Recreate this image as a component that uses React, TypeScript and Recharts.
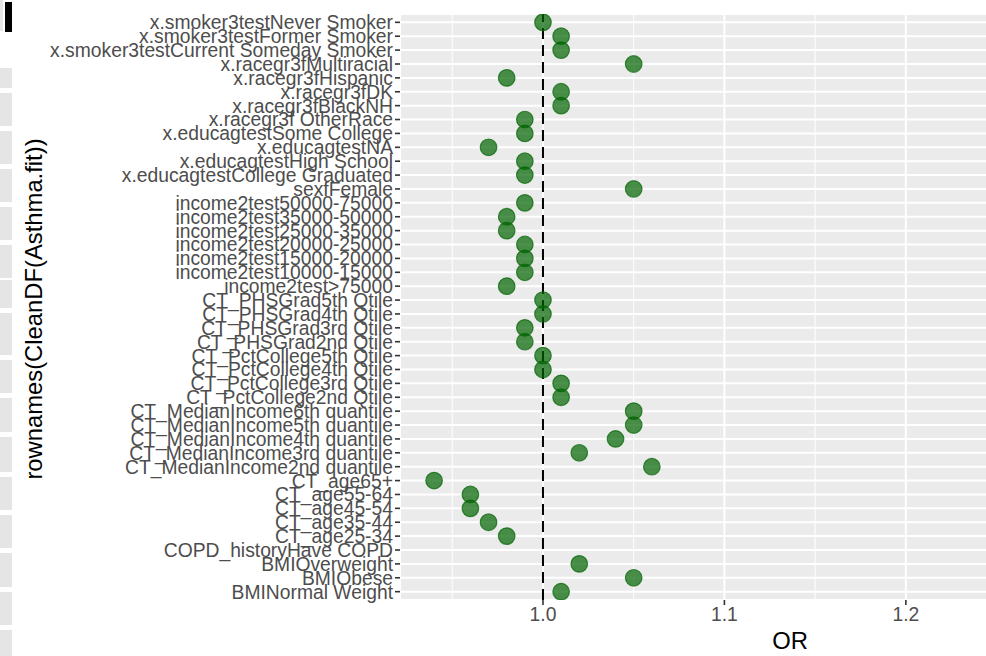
import React from 'react';
import {
  ScatterChart,
  Scatter,
  XAxis,
  YAxis,
  CartesianGrid,
  ReferenceLine,
} from 'recharts';

// Model terms, listed top to bottom as they appear on the y axis
const TERMS: string[] = [
  'x.smoker3testNever Smoker',
  'x.smoker3testFormer Smoker',
  'x.smoker3testCurrent Someday Smoker',
  'x.racegr3fMultiracial',
  'x.racegr3fHispanic',
  'x.racegr3fDK',
  'x.racegr3fBlackNH',
  'x.racegr3f OtherRace',
  'x.educagtestSome College',
  'x.educagtestNA',
  'x.educagtestHigh School',
  'x.educagtestCollege Graduated',
  'sexfFemale',
  'income2test50000-75000',
  'income2test35000-50000',
  'income2test25000-35000',
  'income2test20000-25000',
  'income2test15000-20000',
  'income2test10000-15000',
  'income2test>75000',
  'CT_PHSGrad5th Qtile',
  'CT_PHSGrad4th Qtile',
  'CT_PHSGrad3rd Qtile',
  'CT_PHSGrad2nd Qtile',
  'CT_PctCollege5th Qtile',
  'CT_PctCollege4th Qtile',
  'CT_PctCollege3rd Qtile',
  'CT_PctCollege2nd Qtile',
  'CT_MedianIncome6th quantile',
  'CT_MedianIncome5th quantile',
  'CT_MedianIncome4th quantile',
  'CT_MedianIncome3rd quantile',
  'CT_MedianIncome2nd quantile',
  'CT_age65+',
  'CT_age55-64',
  'CT_age45-54',
  'CT_age35-44',
  'CT_age25-34',
  'COPD_historyHave COPD',
  'BMIOverweight',
  'BMIObese',
  'BMINormal Weight',
];

// Odds ratio for each term, same order as TERMS
const ODDS_RATIOS: number[] = [
  1.0, 1.01, 1.01, 1.05, 0.98, 1.01, 1.01, 0.99, 0.99, 0.97, 0.99, 0.99,
  1.05, 0.99, 0.98, 0.98, 0.99, 0.99, 0.99, 0.98, 1.0, 1.0, 0.99, 0.99,
  1.0, 1.0, 1.01, 1.01, 1.05, 1.05, 1.04, 1.02, 1.06, 0.94, 0.96, 0.96,
  0.97, 0.98, 1.33, 1.02, 1.05, 1.01,
];

const X_TICKS: number[] = [1.0, 1.1, 1.2, 1.3];
const X_MINOR: number[] = [0.95, 1.05, 1.15, 1.25];
const X_DOMAIN: [number, number] = [0.9212, 1.3511];
const REFERENCE_OR = 1.0;

const ROW_TICKS = TERMS.map((_, i) => i);

const data = TERMS.map((term, i) => ({ term, row: i, or: ODDS_RATIOS[i] }));

const FONT = '"Liberation Sans", Arial, Helvetica, sans-serif';

const YTick = (props: any) => {
  const { x, y, payload } = props;
  return (
    <text
      x={x}
      y={y}
      dy="0.36em"
      textAnchor="end"
      fill="#4d4d4d"
      fontSize={19.3}
      fontFamily={FONT}
    >
      {TERMS[payload.value]}
    </text>
  );
};

const Dot = (props: any) => {
  const { cx, cy } = props;
  if (cx == null || cy == null) return null;
  return (
    <circle
      cx={cx}
      cy={cy}
      r={8.3}
      fill="#006400"
      fillOpacity={0.7}
      stroke="#006400"
      strokeOpacity={0.7}
      strokeWidth={1.2}
    />
  );
};

// Neighbouring strip pieces along the left edge
const STRIP_BLOCKS: [number, number][] = [
  [68, 20], [93, 33], [131, 33], [169, 33], [207, 33], [245, 33],
  [280, 28], [313, 42], [360, 33], [398, 34], [437, 35], [477, 33],
  [515, 33], [553, 34], [592, 33], [630, 30],
];

export default function App() {
  return (
    <div
      style={{
        position: 'fixed',
        left: 0,
        top: 0,
        width: 986,
        height: 656,
        overflow: 'hidden',
        background: '#ffffff',
      }}
    >
      <div style={{ position: 'absolute', left: 0, top: 0, width: 3, height: 31, background: '#e6e6e6' }} />
      <div style={{ position: 'absolute', left: 5, top: 2, width: 7, height: 30, background: '#000' }} />
      {STRIP_BLOCKS.map(([top, h], i) => (
        <div
          key={i}
          style={{ position: 'absolute', left: 0, top, width: 12, height: h, background: '#e5e5e5' }}
        />
      ))}
      <div style={{ position: 'absolute', left: 0, top: 0 }}>
        <ScatterChart
          width={1200}
          height={656}
          margin={{ top: 14, right: 20, bottom: 0, left: 0 }}
        >
          <CartesianGrid
            fill="#ebebeb"
            fillOpacity={1}
            stroke="#ffffff"
            strokeWidth={2}
          />
          <CartesianGrid
            horizontal={false}
            verticalValues={X_MINOR}
            stroke="#ffffff"
            strokeWidth={1}
            fill="none"
          />
          <XAxis
            type="number"
            dataKey="or"
            domain={X_DOMAIN}
            allowDataOverflow
            ticks={X_TICKS}
            interval={0}
            tickFormatter={(v: number) => v.toFixed(1)}
            height={56}
            tickSize={5}
            tickMargin={2}
            axisLine={false}
            tickLine={{ stroke: '#333333', strokeWidth: 1.6 }}
            tick={{ fill: '#4d4d4d', fontSize: 19.3, fontFamily: FONT }}
          />
          <YAxis
            type="number"
            dataKey="row"
            domain={[-0.6, TERMS.length - 1 + 0.6]}
            reversed
            allowDataOverflow
            ticks={ROW_TICKS}
            interval={0}
            width={400}
            tickSize={5}
            tickMargin={2}
            axisLine={false}
            tickLine={{ stroke: '#333333', strokeWidth: 1.6 }}
            tick={<YTick />}
          />
          <Scatter data={data} shape={<Dot />} isAnimationActive={false} />
          <ReferenceLine
            x={REFERENCE_OR}
            stroke="#000000"
            strokeWidth={2}
            strokeDasharray="11 6"
          />
        </ScatterChart>
      </div>
      <svg
        width={986}
        height={656}
        style={{ position: 'absolute', left: 0, top: 0, pointerEvents: 'none' }}
      >
        <text
          transform="translate(42,309) rotate(-90)"
          textAnchor="middle"
          fontSize={23.8}
          fontFamily={FONT}
          fill="#000"
        >
          rownames(CleanDF(Asthma.fit))
        </text>
        <text x={790} y={649} textAnchor="middle" fontSize={23.8} fontFamily={FONT} fill="#000">
          OR
        </text>
      </svg>
    </div>
  );
}
